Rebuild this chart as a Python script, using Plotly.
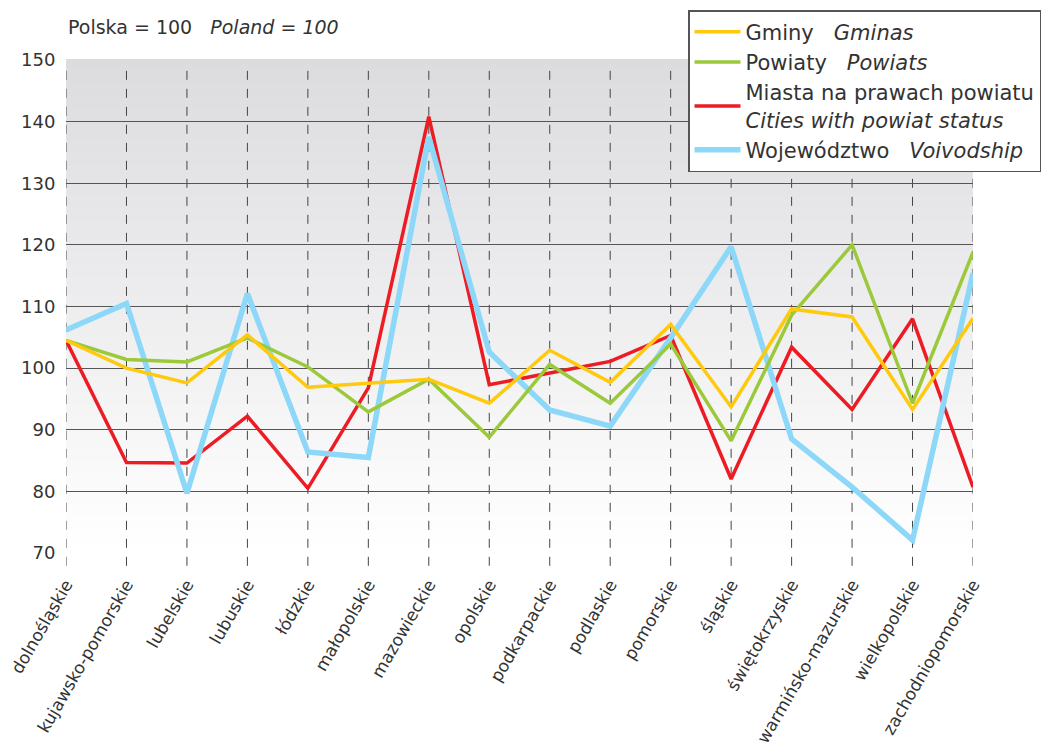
"""Regional index chart: Polska = 100."""

import plotly.graph_objects as go

categories = [
    "dolnośląskie", "kujawsko-pomorskie", "lubelskie", "lubuskie", "łódzkie",
    "małopolskie", "mazowieckie", "opolskie", "podkarpackie", "podlaskie",
    "pomorskie", "śląskie", "świętokrzyskie", "warmińsko-mazurskie",
    "wielkopolskie", "zachodniopomorskie",
]

gminy = [104.5, 100.0, 97.6, 105.4, 96.9, 97.5, 98.2, 94.3,
         102.9, 97.7, 107.1, 93.7, 109.6, 108.3, 93.3, 108.1]
powiaty = [104.5, 101.4, 101.0, 104.9, 100.2, 92.9, 98.2, 88.8,
           100.6, 94.3, 103.9, 88.2, 108.6, 120.0, 94.3, 118.8]
miasta = [104.5, 84.7, 84.6, 92.2, 80.5, 96.8, 140.8, 97.3,
          99.2, 101.1, 105.3, 82.0, 103.4, 93.3, 108.0, 80.7]
wojewodztwo = [106.2, 110.5, 79.7, 112.1, 86.4, 85.5, 137.5, 102.6,
               93.2, 90.6, 104.9, 119.7, 88.5, 80.7, 72.1, 115.4]

y_ticks = [70, 80, 90, 100, 110, 120, 130, 140, 150]

FONT = "DejaVu Sans"
TEXT = "#333333"

fig = go.Figure()

# draw order: red, blue, green, yellow; legend order set by legendrank
series = [
    ("Miasta na prawach powiatu<br><i>Cities with powiat status</i>", miasta, "#ed1c24", 3.5, 3),
    ("Województwo   <i>Voivodship</i>", wojewodztwo, "#8dd8f8", 5.5, 4),
    ("Powiaty   <i>Powiats</i>", powiaty, "#9bc93a", 3.5, 2),
    ("Gminy   <i>Gminas</i>", gminy, "#ffc90e", 3.5, 1),
]
for name, vals, color, width, rank in series:
    fig.add_trace(go.Scatter(
        x=categories, y=vals, mode="lines", name=name,
        line=dict(color=color, width=width),
        legendrank=rank,
    ))

# gradient background
shapes = []
n = 150
for i in range(n):
    t = i / (n - 1)  # 0 bottom -> 1 top
    c = round(255 - t * (255 - 220))
    c2 = round(255 - t * (255 - 223))
    shapes.append(dict(
        type="rect", xref="paper", yref="paper",
        x0=0, x1=1, y0=i / n, y1=(i + 1) / n + 0.002,
        fillcolor=f"rgb({c},{c},{c2})", line=dict(width=0), layer="below",
    ))

# dashed vertical lines, running a bit below the axis
for cat in categories:
    shapes.append(dict(
        type="line", xref="x", yref="paper", x0=cat, x1=cat, y0=-0.026, y1=0.995,
        line=dict(color="#444444", width=1, dash="dash"), layer="between",
    ))

# page body adds an 8px margin, so the figure is a little smaller than the window
W, H = 1041, 742
fig.update_layout(
    width=W, height=H,
    margin=dict(l=58, r=76, t=52, b=197, autoexpand=False),
    paper_bgcolor="white",
    plot_bgcolor="rgba(0,0,0,0)",
    font=dict(family=FONT, color=TEXT, size=18),
    shapes=shapes,
    showlegend=True,
    legend=dict(
        xref="container", yref="container",
        x=680 / W, y=1 - 2 / H, xanchor="left", yanchor="top",
        bgcolor="white", bordercolor="#555555", borderwidth=1.5,
        font=dict(family=FONT, size=21, color=TEXT),
        traceorder="normal", itemwidth=46,
    ),
    annotations=[dict(
        text="Polska = 100   <i>Poland = 100</i>",
        xref="paper", yref="paper", x=0, y=1.067,
        xanchor="left", yanchor="middle", showarrow=False,
        font=dict(family=FONT, size=19, color=TEXT),
    )],
)

fig.update_xaxes(
    type="category", range=[0, len(categories) - 1],
    showgrid=False, zeroline=False, showline=False, automargin=False,
    ticks="outside", ticklen=14, tickcolor="rgba(0,0,0,0)",
    tickangle=-60, tickfont=dict(size=17),
)
fig.update_yaxes(
    range=[70, 150], tickvals=y_ticks,
    showgrid=True, gridcolor="#555555", gridwidth=1.2,
    zeroline=False, showline=False, automargin=False,
    ticks="outside", ticklen=6, tickcolor="rgba(0,0,0,0)",
    tickfont=dict(size=18),
)

fig.write_html("out.html")
